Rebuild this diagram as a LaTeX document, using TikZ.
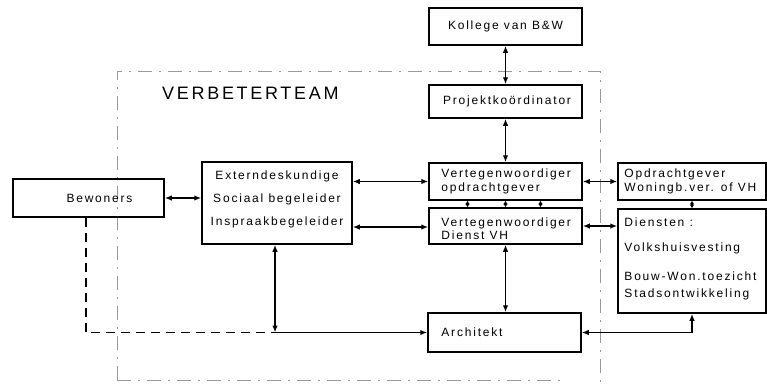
\documentclass[tikz,border=0pt]{standalone}
\usepackage{fontspec}
\setmainfont{Liberation Sans}
\newfontfamily\labfont[LetterSpace=15]{Liberation Sans}
\usetikzlibrary{arrows.meta}
\begin{document}
\begin{tikzpicture}[x=1pt,y=-1pt,
  box/.style={draw, line width=1.5pt, inner sep=0pt},
  txt/.style={inner sep=0pt, font=\labfont\fontsize{12}{13.5}\selectfont, align=left},
  link/.style={line width=1.5pt, {Latex[length=7pt,width=5.5pt]}-{Latex[length=7pt,width=5.5pt]}},
  shortlink/.style={line width=1.4pt, {Latex[length=3.5pt,width=4.5pt]}-{Latex[length=3.5pt,width=4.5pt]}},
  endlink/.style={line width=1.5pt, -{Latex[length=7pt,width=5.5pt]}},
  dashlink/.style={line width=1.5pt, dash pattern=on 9pt off 6pt},
  frame/.style={black!40, line width=0.8pt, dash pattern=on 14pt off 7pt on 2pt off 7pt}]
\useasboundingbox (0,0) rectangle (767,383);
% frame
\draw[frame] (117,380) -- (117,71) -- (600,71) -- (600,383);
\draw[frame] (117,380) -- (560,380);
\node[inner sep=0pt, anchor=west, font=\labfont\fontsize{18}{20}\selectfont] (title) at (162,93) {VERBETERTEAM};
% boxes
\node[box, minimum width=153pt, minimum height=37pt] (kollege) at (505.5,26.5) {};
\node[box, minimum width=153pt, minimum height=33pt] (projekt) at (505.5,101.5) {};
\node[box, minimum width=153pt, minimum height=37pt] (vopd) at (505.5,181.5) {};
\node[box, minimum width=153pt, minimum height=36pt] (vdvh) at (505.5,226) {};
\node[box, minimum width=148pt, minimum height=37pt] (opdr) at (692,181.5) {};
\node[box, minimum width=148pt, minimum height=104pt] (diensten) at (692,261) {};
\node[box, minimum width=153pt, minimum height=39pt] (architekt) at (504.5,332.5) {};
\node[box, minimum width=150pt, minimum height=82pt] (extern) at (277,203) {};
\node[box, minimum width=151pt, minimum height=38pt] (bewoners) at (88.5,198) {};
% texts
\node[txt] (kollegeT) at (kollege) {Kollege van B\&W};
\node[txt] (projektT) at ([xshift=1.5pt]projekt) {Projektko\"ordinator};
\node[txt, anchor=west] (vopdT) at ([xshift=13pt]vopd.west) {Vertegenwoordiger\\opdrachtgever};
\node[txt, anchor=west] (vdvhT) at ([xshift=13pt,yshift=-2.5pt]vdvh.west) {Vertegenwoordiger\\Dienst VH};
\node[txt, anchor=west] (opdrT) at ([xshift=7pt]opdr.west) {Opdrachtgever\\Woningb.ver. of VH};
\node[txt, anchor=north west] (dienstenT) at ([xshift=7pt,yshift=-9pt]diensten.north west) {Diensten :\\[12pt]Volkshuisvesting\\[15pt]Bouw-Won.toezicht\\[4pt]Stadsontwikkeling};
\node[txt, anchor=west] (architektT) at ([xshift=14pt]architekt.west) {Architekt};
\node[txt, align=center] (externT) at ([yshift=4pt]extern) {Externdeskundige\\[10pt]Sociaal begeleider\\[9pt]Inspraakbegeleider};
\node[txt] (bewonersT) at ([xshift=11pt]bewoners) {Bewoners};
% connectors
\draw[link] (kollege.south) -- (projekt.north);
\draw[link] (projekt.south) -- (vopd.north);
\draw[shortlink] ([xshift=-38pt]vopd.south) -- ([xshift=-38pt]vdvh.north);
\draw[shortlink] (vopd.south) -- (vdvh.north);
\draw[shortlink] ([xshift=35pt]vopd.south) -- ([xshift=35pt]vdvh.north);
\draw[link] (vopd.east) -- (opdr.west);
\draw[link] (vdvh.east) -- (vdvh.east -| diensten.west);
\draw[shortlink] (opdr.south) -- (diensten.north);
\draw[link] (vdvh.south) -- (vdvh.south |- architekt.north);
\draw[link] (architekt.east) -| (diensten.south);
\draw[link] (vopd.west -| extern.east) -- (vopd.west);
\draw[link] ([yshift=-1pt]vdvh.west -| extern.east) -- ([yshift=-1pt]vdvh.west);
\draw[link] (bewoners.east) -- (bewoners.east -| extern.west);
\coordinate (j) at ([xshift=-2pt]extern.south |- architekt.west);
\draw[link] ([xshift=-2pt]extern.south) -- (j);
\draw[endlink] (j) -- (architekt.west);
\draw[dashlink] ([xshift=-2.5pt]bewoners.south) |- (j);
\end{tikzpicture}
\end{document}
